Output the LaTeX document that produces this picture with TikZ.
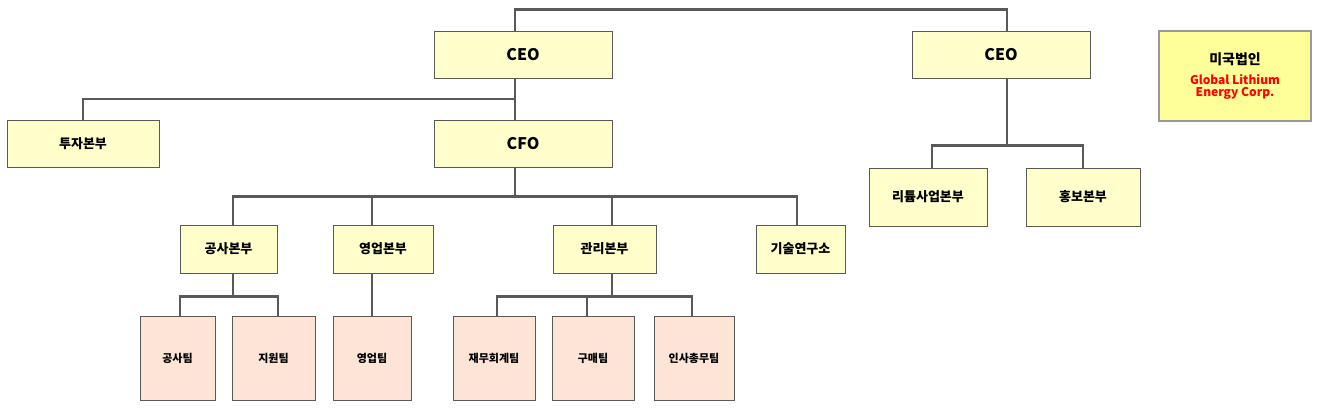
\documentclass[tikz,border=0pt]{standalone}
\usepackage{fontspec}
\setmainfont{Noto Sans CJK KR}
\usetikzlibrary{calc}
\definecolor{boxyellow}{HTML}{FFFFCC}
\definecolor{corpyellow}{HTML}{FFFF99}
\definecolor{teampink}{HTML}{FCE4D6}
\definecolor{linegray}{HTML}{595959}

\begin{document}
\begin{tikzpicture}[x=1pt, y=-1pt,
	unit/.style={draw=linegray, line width=1pt, fill=boxyellow, inner sep=0pt, font=\bfseries\fontsize{13}{15}\selectfont},
	team/.style={draw=linegray, line width=1pt, fill=teampink, inner sep=0pt, font=\bfseries\fontsize{11}{13}\selectfont},
	link/.style={draw=linegray, line width=2.5pt}]

	\useasboundingbox (0,0) rectangle (1322,410);

	% top level
	\node[unit, minimum width=178pt, minimum height=47pt, font=\bfseries\fontsize{16}{18}\selectfont] (ceoA) at (523,54.5) {CEO};
	\node[unit, minimum width=178pt, minimum height=47pt, font=\bfseries\fontsize{16}{18}\selectfont] (ceoB) at (1001,54.5) {CEO};
	\node[draw=gray!80, line width=2pt, fill=corpyellow, minimum width=152pt, minimum height=90pt, align=center, inner sep=0pt] (corp) at (1235,76)
		{\bfseries\fontsize{14}{16}\selectfont 미국법인\\[8pt]{\color{red}\bfseries\fontsize{12}{16}\selectfont Global Lithium}\\{\color{red}\bfseries\fontsize{12}{16}\selectfont Energy Corp.}};

	% second level
	\node[unit, minimum width=152pt, minimum height=47pt] (invest) at (83,143.5) {투자본부};
	\node[unit, minimum width=178pt, minimum height=47pt, font=\bfseries\fontsize{16}{18}\selectfont] (cfo) at (523,143.5) {CFO};
	\node[unit, minimum width=118pt, minimum height=58pt] (lithium) at (928,197) {리튬사업본부};
	\node[unit, minimum width=114pt, minimum height=58pt] (pr) at (1083,197) {홍보본부};

	% divisions
	\node[unit, minimum width=97pt, minimum height=48pt] (build) at (228.5,249) {공사본부};
	\node[unit, minimum width=100pt, minimum height=48pt] (sales) at (383,249) {영업본부};
	\node[unit, minimum width=103pt, minimum height=48pt] (admin) at (604.5,249) {관리본부};
	\node[unit, minimum width=89pt, minimum height=48pt] (lab) at (800.5,249) {기술연구소};

	% teams
	\node[team, minimum width=75pt, minimum height=84pt] (tBuild) at (177.5,358) {공사팀};
	\node[team, minimum width=83pt, minimum height=84pt] (tSupport) at (273.5,358) {지원팀};
	\node[team, minimum width=78pt, minimum height=84pt] (tSales) at (372,358) {영업팀};
	\node[team, minimum width=82pt, minimum height=84pt] (tFin) at (494,358) {재무회계팀};
	\node[team, minimum width=82pt, minimum height=84pt] (tBuy) at (593,358) {구매팀};
	\node[team, minimum width=80pt, minimum height=84pt] (tHR) at (694,358) {인사총무팀};

	% connector end points (the lines do not meet the boxes at their centres)
	\coordinate (ceoAtop) at ($(ceoA.north)+(-8,0)$);
	\coordinate (ceoAbot) at ($(ceoA.south)+(-8,0)$);
	\coordinate (cfoTop) at ($(cfo.north)+(-8,0)$);
	\coordinate (cfoBot) at ($(cfo.south)+(-8,0)$);
	\coordinate (ceoBtop) at ($(ceoB.north)+(6,0)$);
	\coordinate (ceoBbot) at ($(ceoB.south)+(6,0)$);
	\coordinate (lithTop) at ($(lithium.north)+(4,0)$);
	\coordinate (buildTop) at ($(build.north)+(4.5,0)$);
	\coordinate (buildBot) at ($(build.south)+(4.5,0)$);
	\coordinate (salesTop) at ($(sales.north)+(-11,0)$);
	\coordinate (salesBot) at ($(sales.south)+(-11,0)$);
	\coordinate (adminTop) at ($(admin.north)+(7.5,0)$);
	\coordinate (adminBot) at ($(admin.south)+(7.5,0)$);
	\coordinate (labTop) at ($(lab.north)+(-3.5,0)$);
	\coordinate (tBuildTop) at ($(tBuild.north)+(2.5,0)$);
	\coordinate (tSupportTop) at ($(tSupport.north)+(4.5,0)$);
	\coordinate (tFinTop) at ($(tFin.north)+(3,0)$);
	\coordinate (tBuyTop) at ($(tBuy.north)+(-6,0)$);
	\coordinate (tHRTop) at ($(tHR.north)+(-2,0)$);

	% connectors
	\draw[link] (ceoAtop) -- ++(0,-21) -| (ceoBtop);
	\draw[link] (ceoAbot) -- (cfoTop);
	\draw[link] ($(ceoAbot)!0.5!(cfoTop)$) -| (invest.north);
	\coordinate (cfoBus) at ($(cfoBot)+(0,29)$);
	\draw[link] (cfoBot) -- (cfoBus);
	\draw[link] (buildTop) |- (cfoBus) -| (labTop);
	\draw[link] (salesTop) -- (salesTop |- cfoBus);
	\draw[link] (adminTop) -- (adminTop |- cfoBus);
	\coordinate (ceoBBus) at ($(ceoBbot)+(0,67)$);
	\draw[link] (ceoBbot) -- (ceoBBus);
	\draw[link] (lithTop) |- (ceoBBus) -| (pr.north);
	\coordinate (buildBus) at ($(buildBot)+(0,23)$);
	\draw[link] (buildBot) -- (buildBus);
	\draw[link] (tBuildTop) |- (buildBus) -| (tSupportTop);
	\draw[link] (salesBot) -- (salesBot |- tSales.north);
	\coordinate (adminBus) at ($(adminBot)+(0,23)$);
	\draw[link] (adminBot) -- (adminBus);
	\draw[link] (tFinTop) |- (adminBus) -| (tHRTop);
	\draw[link] (tBuyTop) -- (tBuyTop |- adminBus);

\end{tikzpicture}
\end{document}
